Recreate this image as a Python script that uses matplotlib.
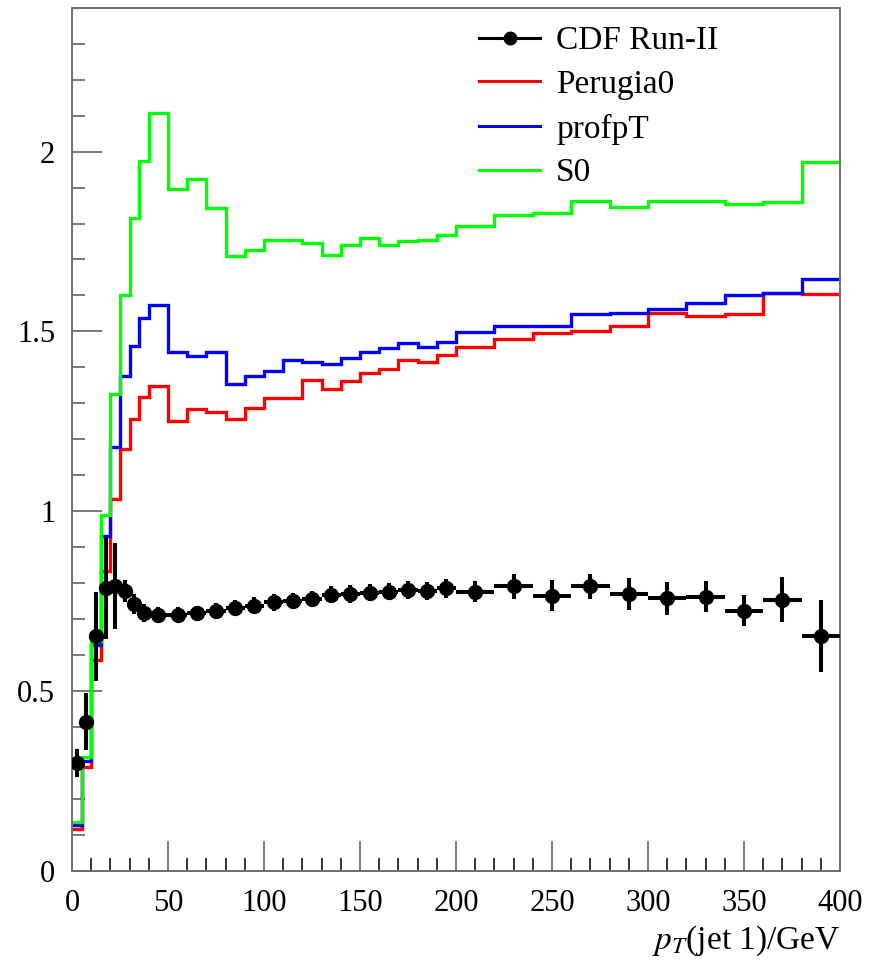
import matplotlib
matplotlib.use('Agg')
import matplotlib.pyplot as plt
import numpy as np
from matplotlib.ticker import MultipleLocator, FuncFormatter
from matplotlib.lines import Line2D

# ---------------- data ----------------
bin_edges = [0, 5, 10, 15, 20, 25, 30, 35, 40, 50, 60, 70, 80, 90, 100, 110, 120,
             130, 140, 150, 160, 170, 180, 190, 200, 220, 240, 260, 280, 300, 320,
             340, 360, 380, 400]

s0 = [0.135, 0.316, 0.640, 0.990, 1.327, 1.602, 1.814, 1.974,
      2.106, 1.897, 1.925, 1.842, 1.711, 1.726, 1.753, 1.753, 1.746, 1.713, 1.741,
      1.759, 1.741, 1.752, 1.754, 1.767,
      1.794, 1.823, 1.830, 1.864, 1.845, 1.864, 1.864, 1.855, 1.859, 1.972]

profpt = [0.127, 0.305, 0.629, 0.932, 1.179, 1.375, 1.460, 1.537,
          1.574, 1.442, 1.433, 1.442, 1.353, 1.377, 1.389, 1.421, 1.415, 1.409, 1.426,
          1.442, 1.454, 1.468, 1.458, 1.472,
          1.498, 1.514, 1.514, 1.549, 1.551, 1.563, 1.579, 1.602, 1.607, 1.647]

perugia0 = [0.118, 0.288, 0.587, 0.834, 1.035, 1.174, 1.257, 1.318,
            1.348, 1.250, 1.285, 1.275, 1.257, 1.288, 1.314, 1.314, 1.364, 1.341, 1.361,
            1.384, 1.395, 1.421, 1.414, 1.435,
            1.457, 1.479, 1.495, 1.500, 1.514, 1.551, 1.542, 1.549, 1.607, 1.604]

cdf = [0.300, 0.415, 0.652, 0.786, 0.793, 0.779, 0.742, 0.718,
       0.713, 0.713, 0.716, 0.723, 0.731, 0.738, 0.747, 0.751, 0.756, 0.768, 0.770,
       0.774, 0.777, 0.780, 0.779, 0.786,
       0.777, 0.791, 0.765, 0.791, 0.770, 0.758, 0.763, 0.724, 0.754, 0.654]

cdf_err = [0.040, 0.080, 0.123, 0.140, 0.120, 0.030, 0.028, 0.025,
           0.022, 0.022, 0.022, 0.022, 0.023, 0.023, 0.023, 0.023, 0.023, 0.024, 0.024,
           0.024, 0.025, 0.025, 0.025, 0.026,
           0.030, 0.035, 0.043, 0.035, 0.045, 0.045, 0.042, 0.044, 0.063, 0.100]

series_labels = ['CDF Run-II', 'Perugia0', 'profpT', 'S0']
x_label = r'$p_T$(jet 1)/GeV'

# ---------------- plot ----------------
plt.rcParams['font.family'] = ['Liberation Serif', 'DejaVu Serif']
plt.rcParams['mathtext.fontset'] = 'stix'

fig = plt.figure(figsize=(8.7, 9.63), dpi=100)
ax = fig.add_axes([72 / 870, 92 / 963, 768 / 870, 863.3 / 963])

edges = np.array(bin_edges, dtype=float)
centers = 0.5 * (edges[:-1] + edges[1:])
halfw = 0.5 * np.diff(edges)

lw_hist = 2.4
ax.stairs(perugia0, edges, baseline=None, color='#ff0000', lw=lw_hist, zorder=2)
ax.stairs(profpt, edges, baseline=None, color='#0000ff', lw=lw_hist, zorder=2.1)
ax.stairs(s0, edges, baseline=None, color='#00ff00', lw=lw_hist, zorder=2.2)
ax.errorbar(centers, cdf, yerr=cdf_err, xerr=halfw, fmt='o', color='black',
            ms=10, elinewidth=2.9, capsize=0, zorder=3)

ax.set_xlim(0, 400)
ax.set_ylim(0, 2.4)

ax.xaxis.set_major_locator(MultipleLocator(50))
ax.xaxis.set_minor_locator(MultipleLocator(10))
ax.yaxis.set_major_locator(MultipleLocator(0.5))
ax.yaxis.set_minor_locator(MultipleLocator(0.1))
fmt = FuncFormatter(lambda v, p: '%g' % v)
ax.xaxis.set_major_formatter(fmt)
ax.yaxis.set_major_formatter(fmt)

spine_col = '#6e6e6e'
for s in ax.spines.values():
    s.set_color(spine_col)
    s.set_linewidth(1.4)

ax.tick_params(which='both', direction='in', top=False, right=False,
               color=spine_col, width=1.3, labelsize=22)
ax.tick_params(which='major', length=21.6)
ax.tick_params(which='minor', length=9.2)
ax.tick_params(axis='y', which='major', pad=12)
ax.tick_params(axis='x', which='major', pad=13)
ax.tick_params(axis='x', which='minor', color='#222222')

ax.set_xlabel(x_label, loc='right', fontsize=24, labelpad=4)

handles = [
    Line2D([], [], color='black', lw=2.2, marker='o', ms=9),
    Line2D([], [], color='#ff0000', lw=2.2),
    Line2D([], [], color='#0000ff', lw=2.2),
    Line2D([], [], color='#00ff00', lw=2.2),
]
ax.legend(handles, series_labels, loc='upper left', bbox_to_anchor=(0.530, 0.979),
          frameon=False, fontsize=24, handlelength=1.83, handletextpad=0.48,
          labelspacing=0.40, borderpad=0, borderaxespad=0)

fig.savefig('out.png', dpi=100)
